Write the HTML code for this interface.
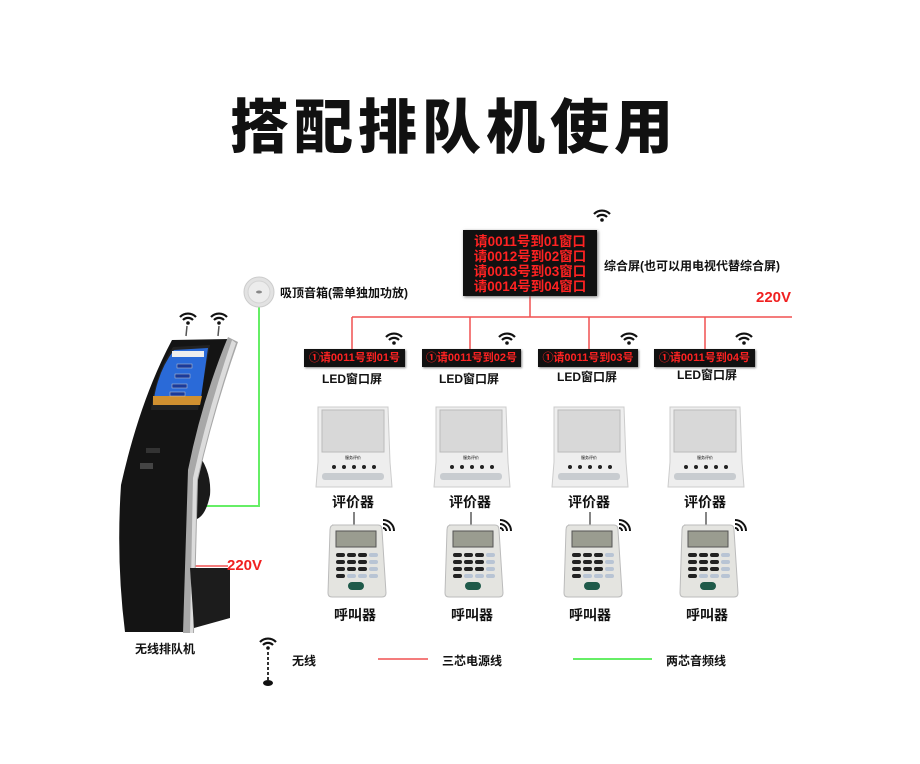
<!DOCTYPE html>
<html><head><meta charset="utf-8"><style>
body{margin:0;background:#fff;}
#c{position:relative;width:920px;height:764px;overflow:hidden;font-family:"Liberation Sans","Noto Sans CJK SC",sans-serif;}
.t{position:absolute;white-space:nowrap;color:#111;font-weight:bold;}
.led{position:absolute;background:#111;color:#f22;font-size:11px;font-weight:bold;text-align:center;line-height:18px;height:18px;box-shadow:1px 1px 2px #888;}
</style></head><body><div id="c">
<div class="t" style="left:230px;top:80px;font-size:59px;letter-spacing:5px;font-family:'Noto Sans CJK SC',sans-serif;font-weight:900;">搭配排队机使用</div>

<svg width="920" height="764" style="position:absolute;left:0;top:0">
<defs>
<g id="wf"><path d="M-8,-3 A11,11 0 0 1 8,-3" stroke="#111" stroke-width="2.2" fill="none"/><path d="M-5,0 A7,7 0 0 1 5,0" stroke="#111" stroke-width="2.2" fill="none"/><circle cx="0" cy="3" r="1.8" fill="#111"/></g>
<g id="sig"><path d="M0,0 A3,3 0 0 1 3,3" stroke="#111" stroke-width="2" fill="none"/><path d="M0,-4 A7,7 0 0 1 7,3" stroke="#111" stroke-width="2" fill="none"/><path d="M0,-8 A11,11 0 0 1 11,3" stroke="#111" stroke-width="2" fill="none"/></g>
<g id="eval">
<path d="M2,0 L72,0 L74,55 L76,80 L0,80 L2,55Z" fill="#eee" stroke="#ccc"/>
<rect x="6" y="3" width="62" height="42" fill="#d8d8d8" stroke="#bbb"/>
<text x="37" y="52" font-size="4" text-anchor="middle">服务评价</text>
<g fill="#222"><circle cx="18" cy="60" r="2"/><circle cx="28" cy="60" r="2"/><circle cx="38" cy="60" r="2"/><circle cx="48" cy="60" r="2"/><circle cx="58" cy="60" r="2"/></g>
<rect x="6" y="66" width="62" height="7" rx="3" fill="#c8ccd0"/>
</g>
<g id="call">
<path d="M4,0 L50,0 Q54,0 54,5 L58,68 Q58,72 54,72 L4,72 Q0,72 0,68 L2,5 Q2,0 6,0Z" fill="#e4e4e0" stroke="#bbb"/>
<rect x="8" y="6" width="40" height="16" fill="#9a9c90" stroke="#555"/>
<g fill="#222"><rect x="8" y="28" width="9" height="4" rx="2"/><rect x="19" y="28" width="9" height="4" rx="2"/><rect x="30" y="28" width="9" height="4" rx="2"/>
<rect x="8" y="35" width="9" height="4" rx="2"/><rect x="19" y="35" width="9" height="4" rx="2"/><rect x="30" y="35" width="9" height="4" rx="2"/>
<rect x="8" y="42" width="9" height="4" rx="2"/><rect x="19" y="42" width="9" height="4" rx="2"/><rect x="30" y="42" width="9" height="4" rx="2"/><rect x="8" y="49" width="9" height="4" rx="2"/></g>
<g fill="#b8c4d4"><rect x="41" y="28" width="9" height="4" rx="2"/><rect x="41" y="35" width="9" height="4" rx="2"/><rect x="41" y="42" width="9" height="4" rx="2"/><rect x="19" y="49" width="9" height="4" rx="2"/><rect x="30" y="49" width="9" height="4" rx="2"/><rect x="41" y="49" width="9" height="4" rx="2"/></g>
<rect x="20" y="57" width="16" height="8" rx="4" fill="#1f5a4a"/>
</g>
</defs>

<g stroke="#f05050" stroke-width="1.5" fill="none">
<line x1="352" y1="317" x2="792" y2="317"/>
<line x1="530" y1="296" x2="530" y2="317"/>
<line x1="352" y1="317" x2="352" y2="349"/>
<line x1="470" y1="317" x2="470" y2="349"/>
<line x1="589" y1="317" x2="589" y2="349"/>
<line x1="705" y1="317" x2="705" y2="349"/>
<line x1="193" y1="566" x2="228" y2="566"/>
<line x1="378" y1="659" x2="428" y2="659"/>
</g>
<g stroke="#66ee66" stroke-width="2" fill="none">
<polyline points="259,305 259,506 190,506"/>
<line x1="573" y1="659" x2="652" y2="659"/>
</g>

<circle cx="259" cy="292" r="15" fill="#e2e2e2" stroke="#ccc"/>
<circle cx="259" cy="292" r="11" fill="#ececec" stroke="#d4d4d4"/>
<ellipse cx="259" cy="292" rx="3" ry="1.5" fill="#888"/>

<use href="#wf" x="602" y="217"/>
<use href="#wf" x="394" y="340"/>
<use href="#wf" x="507" y="340"/>
<use href="#wf" x="629" y="340"/>
<use href="#wf" x="744" y="340"/>
<use href="#wf" x="188" y="320"/>
<use href="#wf" x="219" y="320"/>
<line x1="187" y1="326" x2="186" y2="336" stroke="#555" stroke-width="1.5"/>
<line x1="219" y1="326" x2="218" y2="336" stroke="#555" stroke-width="1.5"/>

<path d="M195,450 Q212,470 210,495 Q205,520 192,520Z" fill="#1a1a1a"/>
<path d="M172,340 L230,339 Q205,400 190,470 L184,632 L125,632 Q116,560 121,485 Q140,400 172,340Z" fill="#141414"/>
<path d="M228,337 L238,342 Q214,410 198,480 L194,633 L183,633 L188,470 Q202,400 228,337Z" fill="#a8a8a8"/>
<path d="M232,340 L236,343 Q213,410 197,480 L193,633 L190,633 L193,478 Q208,410 232,340Z" fill="#dcdcdc"/>
<path d="M190,568 L230,568 L230,618 L194,628Z" fill="#1c1c1c"/>
<path d="M173,347 L210,345 L198,410 L151,410 Q155,375 173,347Z" fill="#222"/>
<path d="M174,350 L208,348 L200,405 L153,405 Q157,372 174,350Z" fill="#2a6ad8"/>
<rect x="172" y="351" width="32" height="6" fill="#eee"/>
<path d="M153,396 L202,396 L200,405 L153,405Z" fill="#d09030"/>
<g fill="#1a3a9a" stroke="#ccc" stroke-width=".5"><rect x="177" y="364" width="15" height="4"/><rect x="175" y="374" width="15" height="4"/><rect x="172" y="384" width="15" height="4"/><rect x="170" y="392" width="15" height="4"/></g>
<rect x="146" y="448" width="14" height="5" fill="#333"/>
<rect x="140" y="463" width="13" height="6" fill="#444"/>

<use href="#wf" x="268" y="645"/>
<line x1="268" y1="652" x2="268" y2="680" stroke="#333" stroke-width="2" stroke-dasharray="3,2"/>
<ellipse cx="268" cy="683" rx="5" ry="3" fill="#111"/>

<use href="#eval" x="316" y="407"/>
<use href="#eval" x="434" y="407"/>
<use href="#eval" x="552" y="407"/>
<use href="#eval" x="668" y="407"/>
<g stroke="#333" stroke-width="1.2">
<line x1="354" y1="512" x2="354" y2="527"/><line x1="471" y1="512" x2="471" y2="527"/><line x1="590" y1="512" x2="590" y2="527"/><line x1="706" y1="512" x2="706" y2="527"/>
</g>
<use href="#call" x="328" y="525"/>
<use href="#call" x="445" y="525"/>
<use href="#call" x="564" y="525"/>
<use href="#call" x="680" y="525"/>
<use href="#sig" x="383" y="528"/>
<use href="#sig" x="500" y="528"/>
<use href="#sig" x="619" y="528"/>
<use href="#sig" x="735" y="528"/>
</svg>

<div style="position:absolute;left:463px;top:230px;width:134px;height:66px;background:#111;box-shadow:1px 1px 3px #777;color:#f22;font-size:13.5px;font-weight:bold;line-height:15px;padding-top:4px;box-sizing:border-box;text-align:center;">请0011号到01窗口<br>请0012号到02窗口<br>请0013号到03窗口<br>请0014号到04窗口</div>
<div class="t" style="left:604px;top:257px;font-size:12px;">综合屏(也可以用电视代替综合屏)</div>
<div class="t" style="left:756px;top:289px;font-size:15px;color:#f02020;">220V</div>
<div class="t" style="left:227px;top:557px;font-size:15px;color:#f02020;">220V</div>
<div class="t" style="left:280px;top:284px;font-size:12px;">吸顶音箱(需单独加功放)</div>

<div class="led" style="left:304px;top:349px;width:101px;">①请0011号到01号</div>
<div class="led" style="left:422px;top:349px;width:99px;">①请0011号到02号</div>
<div class="led" style="left:538px;top:349px;width:100px;">①请0011号到03号</div>
<div class="led" style="left:654px;top:349px;width:101px;">①请0011号到04号</div>
<div class="t" style="left:322px;top:370px;font-size:12px;">LED窗口屏</div>
<div class="t" style="left:439px;top:370px;font-size:12px;">LED窗口屏</div>
<div class="t" style="left:557px;top:368px;font-size:12px;">LED窗口屏</div>
<div class="t" style="left:677px;top:366px;font-size:12px;">LED窗口屏</div>

<div class="t" style="left:332px;top:492px;font-size:14px;">评价器</div>
<div class="t" style="left:449px;top:492px;font-size:14px;">评价器</div>
<div class="t" style="left:568px;top:492px;font-size:14px;">评价器</div>
<div class="t" style="left:684px;top:492px;font-size:14px;">评价器</div>
<div class="t" style="left:334px;top:605px;font-size:14px;">呼叫器</div>
<div class="t" style="left:451px;top:605px;font-size:14px;">呼叫器</div>
<div class="t" style="left:569px;top:605px;font-size:14px;">呼叫器</div>
<div class="t" style="left:686px;top:605px;font-size:14px;">呼叫器</div>

<div class="t" style="left:135px;top:640px;font-size:12px;">无线排队机</div>
<div class="t" style="left:292px;top:652px;font-size:12px;">无线</div>
<div class="t" style="left:442px;top:652px;font-size:12px;">三芯电源线</div>
<div class="t" style="left:666px;top:652px;font-size:12px;">两芯音频线</div>
</div></body></html>
